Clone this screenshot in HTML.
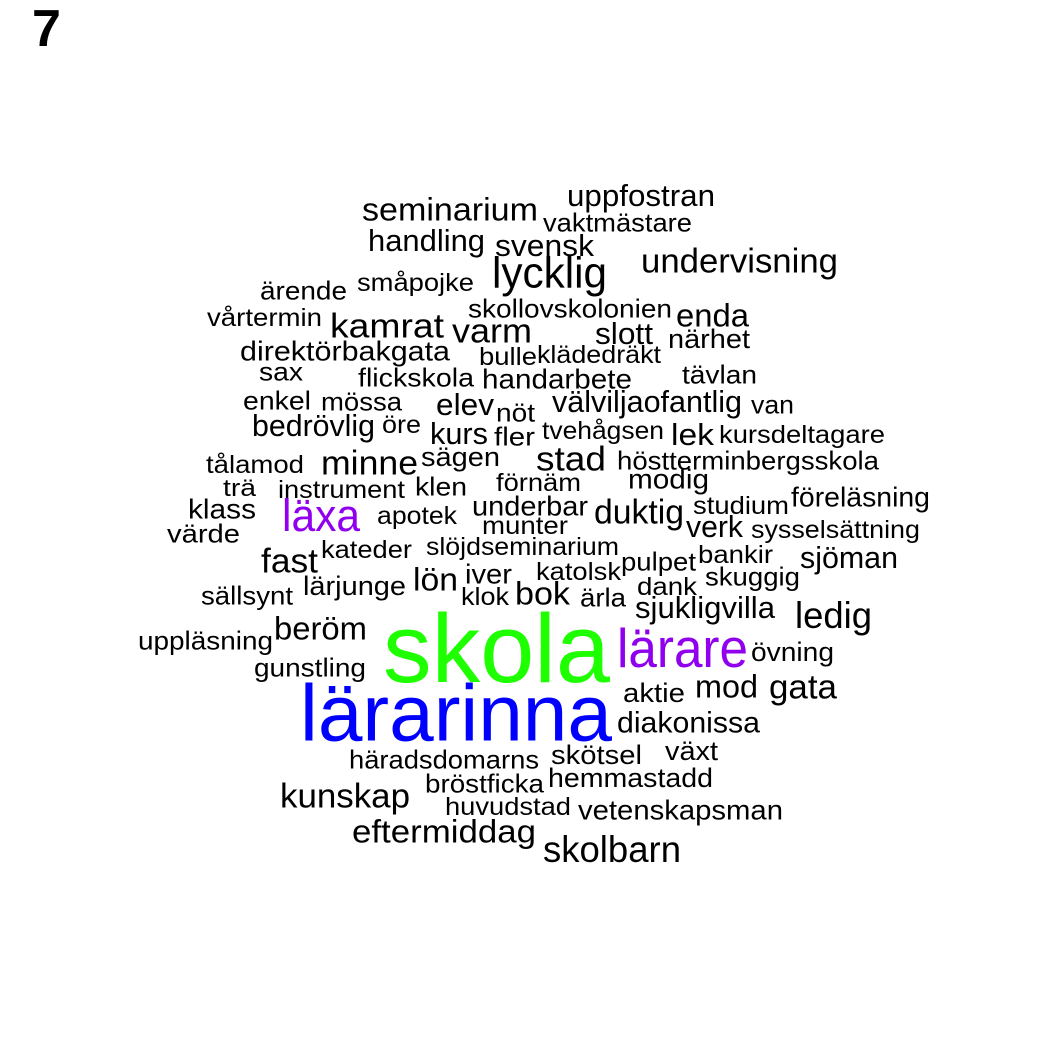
<!DOCTYPE html>
<html><head><meta charset="utf-8">
<style>
html,body{margin:0;padding:0;background:#fff;}
svg{display:block;font-family:"Liberation Sans",Arial,sans-serif;}
</style></head>
<body>
<svg id="cloud" width="1050" height="1050" viewBox="0 0 1050 1050">
<rect width="1050" height="1050" fill="#fff"/>
<text x="32" y="46" font-size="52" font-weight="bold" fill="#000">7</text>
</svg>
<script>
const words = ["uppfostran","seminarium","vaktmästare","handling","svensk","undervisning","lycklig","ärende","småpojke","vårtermin","skollovskolonien","enda","kamrat","varm","slott","närhet","direktörbakgata","bulle","klädedräkt","sax","flickskola","handarbete","tävlan","enkel","mössa","elev","nöt","välviljaofantlig","van","bedrövlig","öre","kurs","fler","tvehågsen","lek","kursdeltagare","tålamod","minne","sägen","stad","höstterminbergsskola","trä","instrument","klen","förnäm","modig","underbar","föreläsning","klass","läxa","apotek","munter","duktig","studium","verk","sysselsättning","värde","fast","kateder","slöjdseminarium","pulpet","bankir","sjöman","lön","iver","katolsk","skuggig","lärjunge","sällsynt","klok","bok","ärla","dank","sjukligvilla","ledig","beröm","uppläsning","skola","lärare","övning","gunstling","lärarinna","aktie","mod","gata","diakonissa","växt","häradsdomarns","skötsel","hemmastadd","bröstficka","kunskap","huvudstad","vetenskapsman","eftermiddag","skolbarn"];
const x1 = [567,362,543,368,495,641,492,260,357,207,468,676,330,452,595,668,240,479,537,259,358,482,682,243,321,436,496,552,751,252,382,430,494,542,671,719,206,321,421,536,617,223,278,415,496,628,472,791,188,282,377,482,594,693,686,751,167,261,321,426,621,698,800,413,465,536,705,303,201,461,515,580,637,635,795,274,138,383,617,751,254,300,623,695,769,617,665,349,551,548,425,280,445,578,352,543];
const x2 = [715,538,692,485,594,838,607,347,474,322,672,749,444,532,653,750,450,537,661,303,474,632,757,311,402,494,535,742,794,375,421,488,535,664,714,885,304,418,500,606,879,256,405,467,581,709,588,930,256,360,457,568,684,789,743,920,240,318,412,619,696,773,898,458,512,621,800,406,293,509,570,626,697,775,872,367,273,610,748,834,366,612,685,758,837,760,718,539,642,713,544,410,571,783,536,681];
const ymid = [196,210,223,241,246,261,273,291,283,318,309,316,326,331,334,339,351,357,355,372,378,379,375,401,402,405,413,402,405,426,425,434,437,431,435,435,465,463,457,459,461,488,490,487,483,479,506,497,509,516,516,526,512,506,527,530,534,561,550,547,562,555,558,580,574,572,577,586,596,597,594,598,587,608,616,629,641,650,649,652,668,714,693,687,687,723,751,760,755,778,784,796,807,810,832,850];
const sizes = [28,30,24,28,28,32,40,24,23,23,24,30,32,32,28,25,26,23,23,24,24,26,24,24,24,28,24,28,24,28,23,28,24,23,28,23,23,32,25,32,24,22,23,24,23,26,26,26,26,42,23,23,32,23,28,23,24,32,23,23,24,23,28,30,26,23,24,25,24,23,30,24,23,28,34,30,24,97,51,25,24,80,25,30,32,27,25,24,25,25,24,32,23,26,30,34];
const colors = {"skola":"#1eff00","lärarinna":"#0000ff","lärare":"#9000ee","läxa":"#9000ee"};
const svg = document.getElementById('cloud');
const NS = "http://www.w3.org/2000/svg";
for (let i = 0; i < words.length; i++) {
  const s = sizes[i] < 60 ? sizes[i] * 1.08 : sizes[i];
  const t = document.createElementNS(NS, 'text');
  
  
  t.setAttribute('x', x1[i]);
  t.setAttribute('y', ymid[i] + s * 0.33);
  t.setAttribute('font-size', s);
  t.setAttribute('textLength', x2[i] - x1[i]);
  t.setAttribute('lengthAdjust', 'spacingAndGlyphs');
  t.setAttribute('fill', colors[words[i]] || '#000');
  t.textContent = words[i];
  svg.appendChild(t);
}
</script>
</body></html>
